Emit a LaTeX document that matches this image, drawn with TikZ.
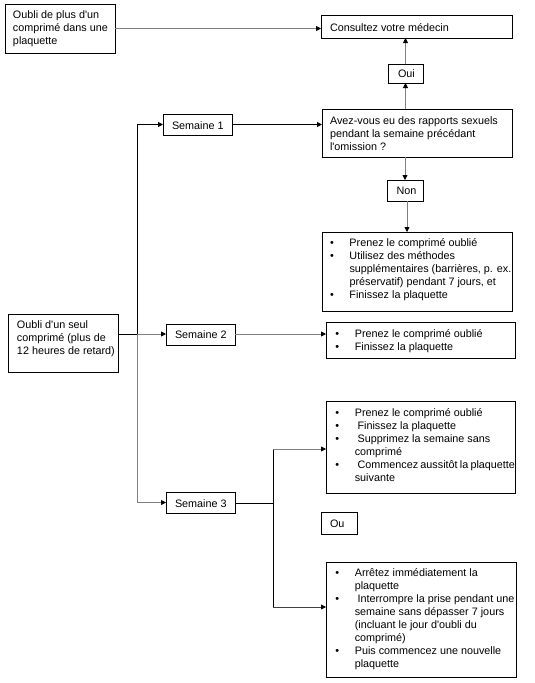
\documentclass[tikz,border=0pt]{standalone}
\usepackage{fontspec}
\setmainfont{Liberation Sans}
\usetikzlibrary{arrows.meta}
\definecolor{lgray}{RGB}{128,128,128}
\newcommand{\tbox}[8]{% name, x, y, w, h, left pad, top pad, content
  \node[boxst, anchor=north west] (#1) at (#2,#3)
   {\parbox[c][#5pt][t]{#4pt}{\vspace*{#7pt}\leftskip=#6pt\relax #8\par}};}
\newcommand{\bitem}[1]{\hangindent=19.5pt\hangafter=1\noindent\strut\makebox[19.5pt][l]{\textbullet}#1\par}
\newcommand{\tline}[1]{\noindent\strut #1\par}
\begin{document}
\begin{tikzpicture}[x=1pt,y=-1pt,
  boxst/.style={draw=black, line width=0.8pt, inner sep=0pt, outer sep=0pt,
    font=\fontsize{10.8}{13}\selectfont},
  conn/.style={line width=0.8pt, -{Triangle[length=5pt,width=5pt,color=black]}},
  plain/.style={line width=0.8pt}]
\useasboundingbox[fill=white] (0,0) rectangle (535,683);

\tbox{plus}{5}{4}{110}{49}{8}{5.4}{\tline{Oubli de plus d\textquotesingle un\newline comprimé dans une\newline plaquette}}
\tbox{cons}{321}{15}{191}{23}{9}{7.2}{\tline{Consultez votre médecin}}
\tbox{oui}{388}{64}{35}{19}{10}{4.4}{\tline{Oui}}
\tbox{avez}{322}{109}{190}{48}{8}{6.2}{\tline{Avez-vous eu des rapports sexuels\newline pendant la semaine précédant\newline l\textquotesingle omission ?}}
\tbox{s1}{163}{114}{69}{21}{9}{5.9}{\tline{Semaine 1}}
\tbox{non}{387}{180}{36}{21}{9.5}{4.9}{\tline{Non}}
\tbox{b1}{322}{232}{190}{79}{8}{5.4}{%
  \bitem{Prenez le comprimé oublié}%
  \bitem{Utilisez des méthodes\newline supplémentaires (barrières, p. ex.\newline préservatif) pendant 7 jours, et}%
  \bitem{Finissez la plaquette}}
\tbox{seul}{8}{314}{110}{58}{9}{5.4}{\tline{Oubli d\textquotesingle un seul\newline comprimé (plus de\newline 12 heures de retard)}}
\tbox{s2}{166}{324}{69}{21}{9}{5.4}{\tline{Semaine 2}}
\tbox{b2}{326}{322}{189}{36}{9.3}{6.2}{%
  \bitem{Prenez le comprimé oublié}%
  \bitem{Finissez la plaquette}}
\tbox{b3}{326}{401}{189}{92}{9.3}{6.2}{%
  \bitem{Prenez le comprimé oublié}%
  \bitem{\hspace{2.8pt}Finissez la plaquette}%
  \bitem{\hspace{2.8pt}Supprimez la semaine sans\newline comprimé}%
  \bitem{\hspace{2.8pt}Commencez aussitôt la plaquette\newline suivante}}
\tbox{s3}{166}{492}{69}{21}{9}{5.9}{\tline{Semaine 3}}
\tbox{ou}{321}{512}{36}{22}{9}{6.2}{\tline{Ou}}
\tbox{b4}{326}{562}{190}{115}{9.3}{5.4}{%
  \bitem{Arrêtez immédiatement la\newline plaquette}%
  \bitem{\hspace{2.8pt}Interrompre la prise pendant une\newline semaine sans dépasser 7 jours\newline (incluant le jour d\textquotesingle oubli du\newline comprimé)}%
  \bitem{Puis commencez une nouvelle\newline plaquette}}

% connectors
\coordinate (trunk) at (137,334);
\coordinate (split) at (273,503);
\coordinate (up) at (273,449);
\coordinate (dn) at (273,607);

\draw[conn, lgray] (plus.east) -- (plus.east -| cons.west);
\draw[conn, lgray] (oui.north) -- (oui.north |- cons.south);
\draw[conn, lgray] (oui.south |- avez.north) -- (oui.south);
\draw[conn, black] (s1.east) -- (s1.east -| avez.west);
\draw[conn, lgray] (non.north |- avez.south) -- (non.north);
\draw[conn, lgray] ([xshift=2pt]non.south) -- ([xshift=2pt]non.south |- b1.north);

\draw[plain, black] (seul.east |- trunk) -- (trunk);
\draw[conn, black] (trunk) |- (s1.west);
\draw[conn, lgray] (trunk) -- (trunk -| s2.west);
\draw[conn, lgray] (trunk) |- (s3.west);
\draw[conn, lgray] (s2.east |- trunk) -- (trunk -| b2.west);

\draw[plain, black] (s3.east |- split) -- (split);
\draw[plain, black] (up) -- (dn);
\draw[conn, lgray] (up) -- (up -| b3.west);
\draw[conn, black!75] (dn) -- (dn -| b4.west);
\end{tikzpicture}
\end{document}
